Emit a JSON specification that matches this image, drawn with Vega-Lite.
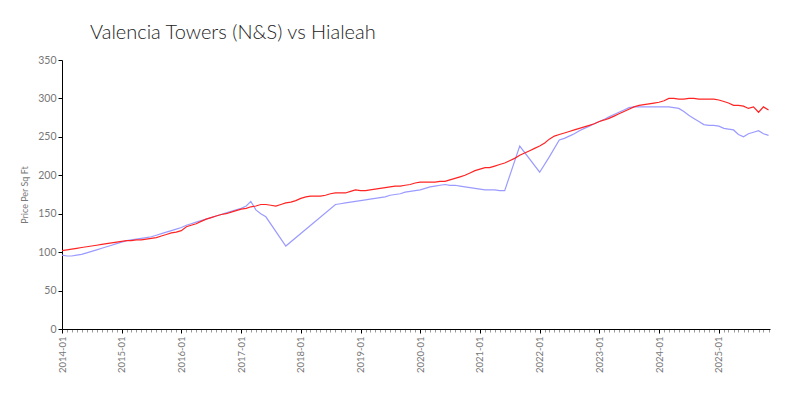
{
  "$schema": "https://vega.github.io/schema/vega-lite/v6.json",
  "autosize": {"type": "none"},
  "width": 708,
  "height": 269,
  "padding": {"left": 62, "top": 60, "right": 30, "bottom": 71},
  "background": "white",
  "config": {
    "view": {"stroke": null},
    "axis": {"labelFont": "Lato", "titleFont": "Lato", "labelColor": "#777777", "titleColor": "#777777", "domainColor": "#000000", "tickColor": "#000000", "grid": false}
  },
  "title": {"text": "Valencia Towers (N&S) vs Hialeah", "anchor": "start", "frame": "group", "dx": 28, "offset": 12, "fontSize": 20, "font": "Lato", "fontWeight": 300, "color": "#222222"},
  "data": {"values": [
    {"month":"2014-01","series":"Hialeah","price":102},{"month":"2014-02","series":"Hialeah","price":103},{"month":"2014-03","series":"Hialeah","price":104},{"month":"2014-04","series":"Hialeah","price":105},{"month":"2014-05","series":"Hialeah","price":106},{"month":"2014-06","series":"Hialeah","price":107},{"month":"2014-07","series":"Hialeah","price":108},{"month":"2014-08","series":"Hialeah","price":109},{"month":"2014-09","series":"Hialeah","price":110},{"month":"2014-10","series":"Hialeah","price":111},{"month":"2014-11","series":"Hialeah","price":112},{"month":"2014-12","series":"Hialeah","price":113},
    {"month":"2015-01","series":"Hialeah","price":114},{"month":"2015-02","series":"Hialeah","price":115},{"month":"2015-03","series":"Hialeah","price":115},{"month":"2015-04","series":"Hialeah","price":116},{"month":"2015-05","series":"Hialeah","price":116},{"month":"2015-06","series":"Hialeah","price":117},{"month":"2015-07","series":"Hialeah","price":118},{"month":"2015-08","series":"Hialeah","price":119},{"month":"2015-09","series":"Hialeah","price":121},{"month":"2015-10","series":"Hialeah","price":123},{"month":"2015-11","series":"Hialeah","price":125},{"month":"2015-12","series":"Hialeah","price":126},
    {"month":"2016-01","series":"Hialeah","price":128},{"month":"2016-02","series":"Hialeah","price":133},{"month":"2016-03","series":"Hialeah","price":135},{"month":"2016-04","series":"Hialeah","price":137},{"month":"2016-05","series":"Hialeah","price":140},{"month":"2016-06","series":"Hialeah","price":143},{"month":"2016-07","series":"Hialeah","price":145},{"month":"2016-08","series":"Hialeah","price":147},{"month":"2016-09","series":"Hialeah","price":149},{"month":"2016-10","series":"Hialeah","price":150},{"month":"2016-11","series":"Hialeah","price":152},{"month":"2016-12","series":"Hialeah","price":154},
    {"month":"2017-01","series":"Hialeah","price":156},{"month":"2017-02","series":"Hialeah","price":157},{"month":"2017-03","series":"Hialeah","price":159},{"month":"2017-04","series":"Hialeah","price":160},{"month":"2017-05","series":"Hialeah","price":162},{"month":"2017-06","series":"Hialeah","price":162},{"month":"2017-07","series":"Hialeah","price":161},{"month":"2017-08","series":"Hialeah","price":160},{"month":"2017-09","series":"Hialeah","price":162},{"month":"2017-10","series":"Hialeah","price":164},{"month":"2017-11","series":"Hialeah","price":165},{"month":"2017-12","series":"Hialeah","price":167},
    {"month":"2018-01","series":"Hialeah","price":170},{"month":"2018-02","series":"Hialeah","price":172},{"month":"2018-03","series":"Hialeah","price":173},{"month":"2018-04","series":"Hialeah","price":173},{"month":"2018-05","series":"Hialeah","price":173},{"month":"2018-06","series":"Hialeah","price":174},{"month":"2018-07","series":"Hialeah","price":176},{"month":"2018-08","series":"Hialeah","price":177},{"month":"2018-09","series":"Hialeah","price":177},{"month":"2018-10","series":"Hialeah","price":177},{"month":"2018-11","series":"Hialeah","price":179},{"month":"2018-12","series":"Hialeah","price":181},
    {"month":"2019-01","series":"Hialeah","price":180},{"month":"2019-02","series":"Hialeah","price":180},{"month":"2019-03","series":"Hialeah","price":181},{"month":"2019-04","series":"Hialeah","price":182},{"month":"2019-05","series":"Hialeah","price":183},{"month":"2019-06","series":"Hialeah","price":184},{"month":"2019-07","series":"Hialeah","price":185},{"month":"2019-08","series":"Hialeah","price":186},{"month":"2019-09","series":"Hialeah","price":186},{"month":"2019-10","series":"Hialeah","price":187},{"month":"2019-11","series":"Hialeah","price":188},{"month":"2019-12","series":"Hialeah","price":190},
    {"month":"2020-01","series":"Hialeah","price":191},{"month":"2020-02","series":"Hialeah","price":191},{"month":"2020-03","series":"Hialeah","price":191},{"month":"2020-04","series":"Hialeah","price":191},{"month":"2020-05","series":"Hialeah","price":192},{"month":"2020-06","series":"Hialeah","price":192},{"month":"2020-07","series":"Hialeah","price":194},{"month":"2020-08","series":"Hialeah","price":196},{"month":"2020-09","series":"Hialeah","price":198},{"month":"2020-10","series":"Hialeah","price":200},{"month":"2020-11","series":"Hialeah","price":203},{"month":"2020-12","series":"Hialeah","price":206},
    {"month":"2021-01","series":"Hialeah","price":208},{"month":"2021-02","series":"Hialeah","price":210},{"month":"2021-03","series":"Hialeah","price":210},{"month":"2021-04","series":"Hialeah","price":212},{"month":"2021-05","series":"Hialeah","price":214},{"month":"2021-06","series":"Hialeah","price":216},{"month":"2021-07","series":"Hialeah","price":219},{"month":"2021-08","series":"Hialeah","price":222},{"month":"2021-09","series":"Hialeah","price":226},{"month":"2021-10","series":"Hialeah","price":229},{"month":"2021-11","series":"Hialeah","price":232},{"month":"2021-12","series":"Hialeah","price":235},
    {"month":"2022-01","series":"Hialeah","price":238},{"month":"2022-02","series":"Hialeah","price":242},{"month":"2022-03","series":"Hialeah","price":247},{"month":"2022-04","series":"Hialeah","price":251},{"month":"2022-05","series":"Hialeah","price":253},{"month":"2022-06","series":"Hialeah","price":255},{"month":"2022-07","series":"Hialeah","price":257},{"month":"2022-08","series":"Hialeah","price":259},{"month":"2022-09","series":"Hialeah","price":261},{"month":"2022-10","series":"Hialeah","price":263},{"month":"2022-11","series":"Hialeah","price":265},{"month":"2022-12","series":"Hialeah","price":267},
    {"month":"2023-01","series":"Hialeah","price":270},{"month":"2023-02","series":"Hialeah","price":272},{"month":"2023-03","series":"Hialeah","price":274},{"month":"2023-04","series":"Hialeah","price":277},{"month":"2023-05","series":"Hialeah","price":280},{"month":"2023-06","series":"Hialeah","price":283},{"month":"2023-07","series":"Hialeah","price":286},{"month":"2023-08","series":"Hialeah","price":289},{"month":"2023-09","series":"Hialeah","price":291},{"month":"2023-10","series":"Hialeah","price":292},{"month":"2023-11","series":"Hialeah","price":293},{"month":"2023-12","series":"Hialeah","price":294},
    {"month":"2024-01","series":"Hialeah","price":295},{"month":"2024-02","series":"Hialeah","price":297},{"month":"2024-03","series":"Hialeah","price":300},{"month":"2024-04","series":"Hialeah","price":300},{"month":"2024-05","series":"Hialeah","price":299},{"month":"2024-06","series":"Hialeah","price":299},{"month":"2024-07","series":"Hialeah","price":300},{"month":"2024-08","series":"Hialeah","price":300},{"month":"2024-09","series":"Hialeah","price":299},{"month":"2024-10","series":"Hialeah","price":299},{"month":"2024-11","series":"Hialeah","price":299},{"month":"2024-12","series":"Hialeah","price":299},
    {"month":"2025-01","series":"Hialeah","price":298},{"month":"2025-02","series":"Hialeah","price":296},{"month":"2025-03","series":"Hialeah","price":294},{"month":"2025-04","series":"Hialeah","price":291},{"month":"2025-05","series":"Hialeah","price":291},{"month":"2025-06","series":"Hialeah","price":290},{"month":"2025-07","series":"Hialeah","price":287},{"month":"2025-08","series":"Hialeah","price":289},{"month":"2025-09","series":"Hialeah","price":282},{"month":"2025-10","series":"Hialeah","price":289},{"month":"2025-11","series":"Hialeah","price":285},
    {"month":"2014-01","series":"Valencia Towers (N&S)","price":96},{"month":"2014-02","series":"Valencia Towers (N&S)","price":95},{"month":"2014-03","series":"Valencia Towers (N&S)","price":95},{"month":"2014-04","series":"Valencia Towers (N&S)","price":96},{"month":"2014-05","series":"Valencia Towers (N&S)","price":97},{"month":"2014-06","series":"Valencia Towers (N&S)","price":99},{"month":"2014-07","series":"Valencia Towers (N&S)","price":101},{"month":"2014-08","series":"Valencia Towers (N&S)","price":103},{"month":"2014-09","series":"Valencia Towers (N&S)","price":105},{"month":"2014-10","series":"Valencia Towers (N&S)","price":107},{"month":"2014-11","series":"Valencia Towers (N&S)","price":109},{"month":"2014-12","series":"Valencia Towers (N&S)","price":111},
    {"month":"2015-01","series":"Valencia Towers (N&S)","price":113},{"month":"2015-02","series":"Valencia Towers (N&S)","price":115},{"month":"2015-03","series":"Valencia Towers (N&S)","price":116},{"month":"2015-04","series":"Valencia Towers (N&S)","price":117},{"month":"2015-05","series":"Valencia Towers (N&S)","price":118},{"month":"2015-06","series":"Valencia Towers (N&S)","price":119},{"month":"2015-07","series":"Valencia Towers (N&S)","price":120},{"month":"2015-08","series":"Valencia Towers (N&S)","price":122},{"month":"2015-09","series":"Valencia Towers (N&S)","price":124},{"month":"2015-10","series":"Valencia Towers (N&S)","price":126},{"month":"2015-11","series":"Valencia Towers (N&S)","price":128},{"month":"2015-12","series":"Valencia Towers (N&S)","price":130},
    {"month":"2016-01","series":"Valencia Towers (N&S)","price":132},{"month":"2016-02","series":"Valencia Towers (N&S)","price":135},{"month":"2016-03","series":"Valencia Towers (N&S)","price":137},{"month":"2016-04","series":"Valencia Towers (N&S)","price":139},{"month":"2016-05","series":"Valencia Towers (N&S)","price":141},{"month":"2016-06","series":"Valencia Towers (N&S)","price":143},{"month":"2016-07","series":"Valencia Towers (N&S)","price":145},{"month":"2016-08","series":"Valencia Towers (N&S)","price":147},{"month":"2016-09","series":"Valencia Towers (N&S)","price":149},{"month":"2016-10","series":"Valencia Towers (N&S)","price":151},{"month":"2016-11","series":"Valencia Towers (N&S)","price":153},{"month":"2016-12","series":"Valencia Towers (N&S)","price":155},
    {"month":"2017-01","series":"Valencia Towers (N&S)","price":157},{"month":"2017-02","series":"Valencia Towers (N&S)","price":160},{"month":"2017-03","series":"Valencia Towers (N&S)","price":166},{"month":"2017-04","series":"Valencia Towers (N&S)","price":155},{"month":"2017-05","series":"Valencia Towers (N&S)","price":150},{"month":"2017-06","series":"Valencia Towers (N&S)","price":146},{"month":"2017-10","series":"Valencia Towers (N&S)","price":108},{"month":"2018-08","series":"Valencia Towers (N&S)","price":162},
    {"month":"2018-09","series":"Valencia Towers (N&S)","price":163},{"month":"2018-10","series":"Valencia Towers (N&S)","price":164},{"month":"2018-11","series":"Valencia Towers (N&S)","price":165},{"month":"2018-12","series":"Valencia Towers (N&S)","price":166},
    {"month":"2019-01","series":"Valencia Towers (N&S)","price":167},{"month":"2019-02","series":"Valencia Towers (N&S)","price":168},{"month":"2019-03","series":"Valencia Towers (N&S)","price":169},{"month":"2019-04","series":"Valencia Towers (N&S)","price":170},{"month":"2019-05","series":"Valencia Towers (N&S)","price":171},{"month":"2019-06","series":"Valencia Towers (N&S)","price":172},{"month":"2019-07","series":"Valencia Towers (N&S)","price":174},{"month":"2019-08","series":"Valencia Towers (N&S)","price":175},{"month":"2019-09","series":"Valencia Towers (N&S)","price":176},{"month":"2019-10","series":"Valencia Towers (N&S)","price":178},{"month":"2019-11","series":"Valencia Towers (N&S)","price":179},{"month":"2019-12","series":"Valencia Towers (N&S)","price":180},
    {"month":"2020-01","series":"Valencia Towers (N&S)","price":181},{"month":"2020-02","series":"Valencia Towers (N&S)","price":183},{"month":"2020-03","series":"Valencia Towers (N&S)","price":185},{"month":"2020-04","series":"Valencia Towers (N&S)","price":186},{"month":"2020-05","series":"Valencia Towers (N&S)","price":187},{"month":"2020-06","series":"Valencia Towers (N&S)","price":188},{"month":"2020-07","series":"Valencia Towers (N&S)","price":187},{"month":"2020-08","series":"Valencia Towers (N&S)","price":187},{"month":"2020-09","series":"Valencia Towers (N&S)","price":186},{"month":"2020-10","series":"Valencia Towers (N&S)","price":185},{"month":"2020-11","series":"Valencia Towers (N&S)","price":184},{"month":"2020-12","series":"Valencia Towers (N&S)","price":183},
    {"month":"2021-01","series":"Valencia Towers (N&S)","price":182},{"month":"2021-02","series":"Valencia Towers (N&S)","price":181},{"month":"2021-03","series":"Valencia Towers (N&S)","price":181},{"month":"2021-04","series":"Valencia Towers (N&S)","price":181},{"month":"2021-05","series":"Valencia Towers (N&S)","price":180},{"month":"2021-06","series":"Valencia Towers (N&S)","price":180},{"month":"2021-09","series":"Valencia Towers (N&S)","price":238},{"month":"2022-01","series":"Valencia Towers (N&S)","price":204},{"month":"2022-03","series":"Valencia Towers (N&S)","price":224},{"month":"2022-05","series":"Valencia Towers (N&S)","price":246},{"month":"2022-06","series":"Valencia Towers (N&S)","price":248},{"month":"2022-07","series":"Valencia Towers (N&S)","price":251},{"month":"2022-08","series":"Valencia Towers (N&S)","price":254},{"month":"2022-09","series":"Valencia Towers (N&S)","price":258},{"month":"2022-10","series":"Valencia Towers (N&S)","price":261},{"month":"2022-11","series":"Valencia Towers (N&S)","price":264},{"month":"2022-12","series":"Valencia Towers (N&S)","price":267},
    {"month":"2023-01","series":"Valencia Towers (N&S)","price":270},{"month":"2023-02","series":"Valencia Towers (N&S)","price":273},{"month":"2023-03","series":"Valencia Towers (N&S)","price":276},{"month":"2023-04","series":"Valencia Towers (N&S)","price":279},{"month":"2023-05","series":"Valencia Towers (N&S)","price":282},{"month":"2023-06","series":"Valencia Towers (N&S)","price":285},{"month":"2023-07","series":"Valencia Towers (N&S)","price":288},{"month":"2023-08","series":"Valencia Towers (N&S)","price":289},{"month":"2023-09","series":"Valencia Towers (N&S)","price":289},{"month":"2023-10","series":"Valencia Towers (N&S)","price":289},{"month":"2023-11","series":"Valencia Towers (N&S)","price":289},{"month":"2023-12","series":"Valencia Towers (N&S)","price":289},
    {"month":"2024-01","series":"Valencia Towers (N&S)","price":289},{"month":"2024-02","series":"Valencia Towers (N&S)","price":289},{"month":"2024-03","series":"Valencia Towers (N&S)","price":289},{"month":"2024-04","series":"Valencia Towers (N&S)","price":288},{"month":"2024-05","series":"Valencia Towers (N&S)","price":287},{"month":"2024-06","series":"Valencia Towers (N&S)","price":283},{"month":"2024-07","series":"Valencia Towers (N&S)","price":278},{"month":"2024-08","series":"Valencia Towers (N&S)","price":274},{"month":"2024-09","series":"Valencia Towers (N&S)","price":270},{"month":"2024-10","series":"Valencia Towers (N&S)","price":266},{"month":"2024-11","series":"Valencia Towers (N&S)","price":265},{"month":"2024-12","series":"Valencia Towers (N&S)","price":265},
    {"month":"2025-01","series":"Valencia Towers (N&S)","price":264},{"month":"2025-02","series":"Valencia Towers (N&S)","price":261},{"month":"2025-03","series":"Valencia Towers (N&S)","price":260},{"month":"2025-04","series":"Valencia Towers (N&S)","price":259},{"month":"2025-05","series":"Valencia Towers (N&S)","price":253},{"month":"2025-06","series":"Valencia Towers (N&S)","price":250},{"month":"2025-07","series":"Valencia Towers (N&S)","price":254},{"month":"2025-08","series":"Valencia Towers (N&S)","price":256},{"month":"2025-09","series":"Valencia Towers (N&S)","price":258},{"month":"2025-10","series":"Valencia Towers (N&S)","price":254},{"month":"2025-11","series":"Valencia Towers (N&S)","price":252}
  ], "format": {"parse": {"month": "utc:'%Y-%m'"}}},
  "encoding": {
    "y": {"field": "price", "type": "quantitative", "scale": {"domain": [0, 350]},
      "axis": {"values": [0, 50, 100, 150, 200, 250, 300, 350], "title": "Price Per Sq Ft", "titleFontSize": 9, "titleFontWeight": "normal", "titlePadding": 8, "labelFontSize": 10.5, "tickSize": 4, "labelPadding": 2}},
    "color": {"field": "series", "type": "nominal", "scale": {"domain": ["Hialeah", "Valencia Towers (N&S)"], "range": ["#ff2424", "#9b9bff"]}, "legend": null}
  },
  "layer": [
    {
      "transform": [{"filter": "datum.series === 'Valencia Towers (N&S)'"}],
      "mark": {"type": "line", "strokeWidth": 1.2},
      "encoding": {
        "x": {"field": "month", "type": "temporal", "scale": {"type": "utc", "domain": [{"year": 2014, "month": 1, "date": 1, "utc": true}, {"year": 2025, "month": 11, "date": 10, "utc": true}]},
          "axis": {"orient": "bottom", "title": null, "labels": false, "domain": false, "tickCount": {"interval": "month", "step": 1}, "tickSize": 3, "tickColor": "#999999"}}
      }
    },
    {
      "transform": [{"filter": "datum.series === 'Hialeah'"}],
      "mark": {"type": "line", "strokeWidth": 1.2},
      "encoding": {
        "x": {"field": "month", "type": "temporal", "scale": {"type": "utc"},
          "axis": {"orient": "bottom", "title": null, "labelExpr": "utcFormat(datum.value, '%Y-%m')", "labelAngle": 270, "labelFontSize": 9.5, "tickCount": {"interval": "year", "step": 1}, "tickSize": 4, "labelPadding": 3}}
      }
    }
  ],
  "resolve": {"axis": {"x": "independent"}}
}
